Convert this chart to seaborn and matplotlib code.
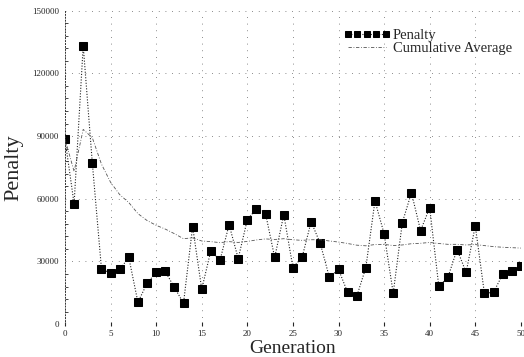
import numpy as np
import pandas as pd
import seaborn as sns
from matplotlib import pyplot as plt

# values
generation = list(range(51))
penalty = [88600, 57600, 133300, 77100, 26600, 24300, 26200, 31900, 10500, 19500,
           24800, 25200, 17600, 10000, 46700, 16700, 35200, 30500, 47600, 31400,
           50000, 55200, 52900, 31900, 52400, 27100, 31900, 49000, 38600, 22400,
           26200, 15200, 13300, 27100, 59000, 43300, 14800, 48600, 62900, 44800,
           55700, 18100, 22400, 35700, 24800, 47100, 14800, 15200, 23800, 25200,
           27600]
cum_average = [88600, 73100, 93200, 89200, 76600, 67900, 62000, 58200, 52900, 49600,
               47300, 45500, 43300, 40900, 41300, 39800, 39500, 39000, 39500, 39100,
               39600, 40300, 40800, 40500, 40900, 40400, 40100, 40400, 40400, 39800,
               39300, 38600, 37800, 37500, 38100, 38200, 37600, 37900, 38500, 38700,
               39100, 38600, 38200, 38200, 37900, 38100, 37600, 37100, 36800, 36600,
               36400]
x_ticks = [0, 5, 10, 15, 20, 25, 30, 35, 40, 45, 50]
y_ticks = [0, 30000, 60000, 90000, 120000, 150000]

df = pd.DataFrame({'Generation': generation, 'Penalty': penalty,
                   'Cumulative Average': cum_average})

sns.set_style("white")
plt.rcParams['font.family'] = ['Liberation Serif', 'DejaVu Serif']

fig = plt.figure(figsize=(5.24, 3.57), dpi=100)
ax = fig.add_axes([0.124, 0.092, 0.870, 0.878])

sns.lineplot(data=df, x='Generation', y='Penalty', ax=ax, color='#222222',
             linestyle=(0, (1, 1.5)), linewidth=0.8, marker='s', markersize=5.5,
             markerfacecolor='black', markeredgecolor='black', label='Penalty')
sns.lineplot(data=df, x='Generation', y='Cumulative Average', ax=ax, color='#555555',
             linestyle=(0, (4, 2, 1, 2)), linewidth=0.6, label='Cumulative Average')

ax.set_xlim(0, 50)
ax.set_ylim(0, 150000)
ax.set_xticks(x_ticks)
ax.set_yticks(y_ticks)
ax.set_yticks(np.arange(0, 150001, 6000), minor=True)
ax.tick_params(axis='both', which='major', labelsize=6.5, length=3, direction='inout', pad=3)
ax.tick_params(axis='y', which='minor', length=2, direction='in', left=True)
ax.tick_params(axis='x', bottom=True)
ax.grid(True, which='major', linestyle=(0, (1, 7)), color='#666666', linewidth=0.6)

for side in ['top', 'right', 'bottom']:
    ax.spines[side].set_visible(False)
ax.spines['left'].set_linestyle((0, (1, 2)))
ax.spines['left'].set_linewidth(0.7)
ax.spines['left'].set_color('#333333')

ax.set_xlabel('Generation', fontsize=14, labelpad=1)
ax.set_ylabel('Penalty', fontsize=16, labelpad=6)

leg = ax.legend(loc='upper right', bbox_to_anchor=(1.0, 0.97), frameon=False,
                fontsize=10.5, numpoints=5, markerscale=0.8, handlelength=3.2,
                handletextpad=0.2, labelspacing=0.0, borderaxespad=0.2)

plt.savefig('out.png', dpi=100)
